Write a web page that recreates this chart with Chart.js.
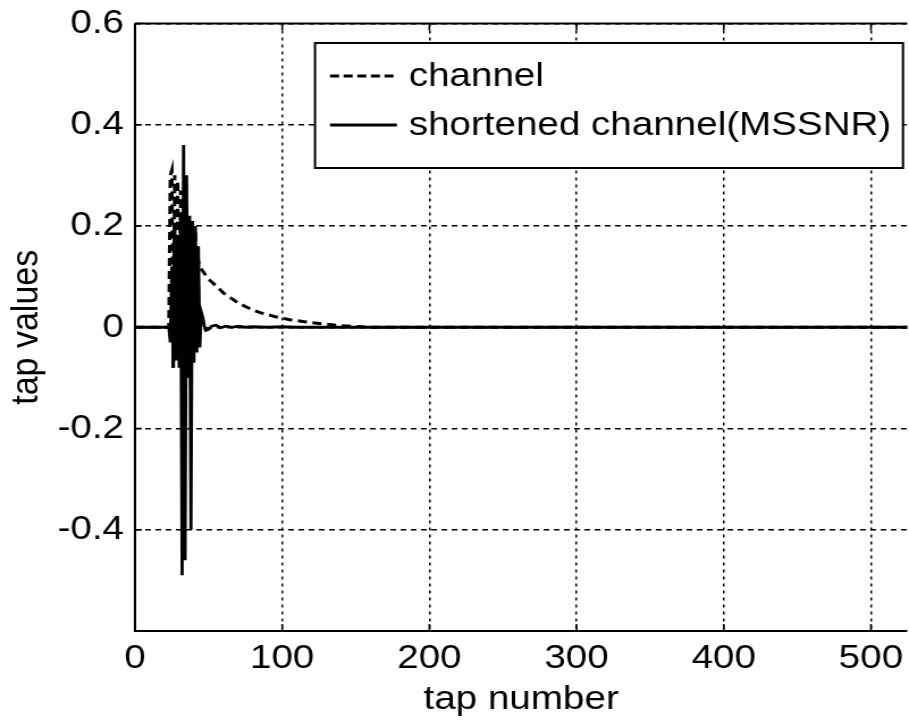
<!DOCTYPE html>
<html><head><meta charset="utf-8">
<script src="https://cdn.jsdelivr.net/npm/chart.js@4/dist/chart.umd.min.js"></script>
<style>
html,body{margin:0;padding:0;background:#fff;overflow:hidden}
#wrap{position:absolute;left:0;top:0;width:801px;height:727px;transform:scaleX(1.1348);transform-origin:0 0}
</style></head><body>
<div id="wrap"><canvas id="c"></canvas></div>
<script>
const xTickValues=[0,100,200,300,400,500];
const yTickValues=[-0.4,-0.2,0,0.2,0.4,0.6];
const seriesLabels=['channel','shortened channel(MSSNR)'];
const xAxisTitle='tap number';
const yAxisTitle='tap values';

const channelTaps=[0,23,24,25,26,27,28,29,30,31,32,33,34,35,36,37,38,39,40,41,42,43,45,50,55,60,65,70,75,80,85,90,95,100,105,110,115,120,130,140,150,160,525];
const channelValues=[0,0,0.30,0.31,-0.08,0.30,-0.07,0.29,-0.06,0.27,-0.05,0.26,-0.03,0.24,-0.02,0.22,0.0,0.21,0.02,0.19,0.05,0.13,0.115,0.095,0.082,0.068,0.058,0.048,0.041,0.034,0.029,0.025,0.021,0.018,0.015,0.013,0.011,0.009,0.006,0.003,0.0015,0,0];

const shortTaps=[0,22,23,24,25,26,27,28,29,30,31,32,33,34,35,36,37,38,39,40,41,42,43,44,45,46,47,48,50,52,55,58,62,66,70,75,80,90,100,110,525];
const shortValues=[0,0,0.0,-0.03,0.12,-0.08,0.20,-0.06,0.18,-0.08,0.22,-0.49,0.36,-0.46,0.30,-0.10,0.21,-0.40,0.21,-0.07,0.20,-0.05,0.16,-0.04,0.03,0.02,0.004,-0.006,-0.004,0.002,0.004,-0.001,0.002,0.0,0.002,0.0,0.001,0.0,0.001,0,0];

const FONT='"Liberation Sans", Arial, Helvetica, sans-serif';
const FS=34;

const framePlugin={id:'frame',afterDatasetsDraw(chart){
  const {ctx,chartArea:a,scales:{x,y}}=chart;
  ctx.save(); ctx.setLineDash([]); ctx.strokeStyle='#000';
  ctx.lineWidth=2; ctx.beginPath();
  ctx.moveTo(a.left,a.top); ctx.lineTo(a.left,a.bottom); ctx.lineTo(a.right,a.bottom);
  ctx.moveTo(a.left,a.top); ctx.lineTo(a.right,a.top); ctx.stroke();
  ctx.lineWidth=1.6; ctx.beginPath();
  xTickValues.forEach(v=>{const px=x.getPixelForValue(v); ctx.moveTo(px,a.bottom); ctx.lineTo(px,a.bottom-7); ctx.moveTo(px,a.top); ctx.lineTo(px,a.top+7);});
  yTickValues.forEach(v=>{const py=y.getPixelForValue(v); ctx.moveTo(a.left,py); ctx.lineTo(a.left+6,py);});
  ctx.stroke(); ctx.restore();
}};

const legendPlugin={id:'boxLegend',afterDatasetsDraw(chart){
  const ctx=chart.ctx; ctx.save();
  const L=277.6,T=43,R=795.7,B=168;
  ctx.fillStyle='#fff'; ctx.fillRect(L,T,R-L,B-T);
  ctx.setLineDash([]); ctx.lineWidth=2; ctx.strokeStyle='#000'; ctx.strokeRect(L,T,R-L,B-T);
  const rows=[76,125];
  chart.data.datasets.forEach((ds,i)=>{
    const yy=rows[i];
    ctx.setLineDash(i===0?[8,4]:[]); ctx.lineWidth=ds.borderWidth;
    ctx.beginPath(); ctx.moveTo(290.8,yy); ctx.lineTo(349.8,yy); ctx.stroke();
    ctx.setLineDash([]); ctx.fillStyle='#000'; ctx.font=FS+'px '+FONT; ctx.textBaseline='middle';
    ctx.fillText(ds.label,360.2,yy+1);
  });
  ctx.restore();
}};

new Chart(document.getElementById('c'),{
  type:'line',
  data:{datasets:[
    {label:seriesLabels[0],data:channelTaps.map((t,i)=>({x:t,y:channelValues[i]})),borderColor:'#000',borderWidth:3,borderDash:[8,5],pointRadius:0,fill:false,tension:0},
    {label:seriesLabels[1],data:shortTaps.map((t,i)=>({x:t,y:shortValues[i]})),borderColor:'#000',borderWidth:2.8,pointRadius:0,fill:false,tension:0}
  ]},
  options:{
    responsive:true,maintainAspectRatio:false,animation:false,events:[],
    layout:{padding:{top:23.5,left:0,right:0,bottom:0}},
    plugins:{legend:{display:false},tooltip:{enabled:false}},
    scales:{
      x:{type:'linear',min:0,max:524.7,
        afterBuildTicks:s=>{s.ticks=xTickValues.map(v=>({value:v}));},
        afterFit:s=>{s.height=96;s.paddingLeft=0;s.paddingRight=0;},
        grid:{color:'#000',lineWidth:1.5,drawTicks:false},
        border:{display:false,dash:[3,4]},
        ticks:{color:'#000',font:{family:FONT,size:FS},padding:7,maxRotation:0,autoSkip:false,callback:v=>String(v)},
        title:{display:true,text:xAxisTitle,color:'#000',font:{family:FONT,size:FS},padding:{top:0,bottom:6.6}}},
      y:{type:'linear',min:-0.6,max:0.6,
        afterBuildTicks:s=>{s.ticks=yTickValues.map(v=>({value:v}));},
        afterFit:s=>{s.width=118.96;s.paddingTop=0;s.paddingBottom=0;},
        grid:{color:'#000',lineWidth:1.5,drawTicks:false},
        border:{display:false,dash:[5,4]},
        ticks:{color:'#000',font:{family:FONT,size:FS},padding:9.7,autoSkip:false,callback:v=>String(v)},
        title:{display:true,text:yAxisTitle,color:'#000',font:{family:FONT,size:FS},padding:{top:3.4,bottom:0}}}
    }
  },
  plugins:[framePlugin,legendPlugin]
});
</script>
</body></html>
